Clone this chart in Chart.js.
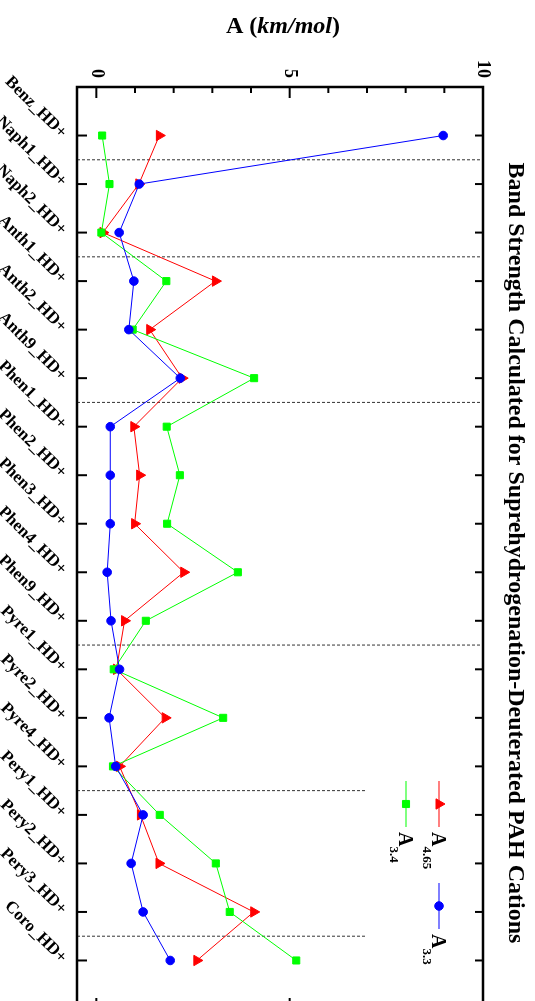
<!DOCTYPE html>
<html><head><meta charset="utf-8">
<script src="https://cdn.jsdelivr.net/npm/chart.js@4"></script>
<style>
html,body{margin:0;padding:0;width:535px;height:1001px;overflow:hidden;background:#fff}
#wrap{position:absolute;left:0;top:0;width:1020px;height:535px;transform-origin:0 0;transform:translate(535px,0) rotate(90deg)}
canvas{display:block}
</style></head><body>
<div id="wrap"><canvas id="c" width="1020" height="535"></canvas></div>
<script>
const categories = ["Benz_HD+","Naph1_HD+","Naph2_HD+","Anth1_HD+","Anth2_HD+","Anth9_HD+","Phen1_HD+","Phen2_HD+","Phen3_HD+","Phen4_HD+","Phen9_HD+","Pyre1_HD+","Pyre2_HD+","Pyre4_HD+","Pery1_HD+","Pery2_HD+","Pery3_HD+","Coro_HD+"];
const a465 = [1.63,1.10,0.17,3.08,1.38,2.22,0.97,1.12,0.99,2.26,0.73,0.52,1.78,0.60,1.14,1.62,4.07,2.60];
const a34  = [0.15,0.34,0.13,1.81,0.94,4.08,1.82,2.16,1.83,3.66,1.28,0.45,3.28,0.43,1.64,3.09,3.45,5.17];
const a33  = [8.97,1.11,0.59,0.97,0.84,2.17,0.36,0.36,0.36,0.28,0.38,0.60,0.33,0.50,1.21,0.90,1.21,1.91];
const valueTicks = [0,5,10];
const minorTicks = [0,1,2,3,4,5,6,7,8,9,10];
const separators = [0.5,2.5,5.5,10.5,13.5,16.5];
const separatorEnds = [10,10,10,10,7,7];
const titleText = "Band Strength Calculated for Suprehydrogenation-Deuterated PAH Cations";
const legendItems = [
  {sub:"4.65", color:"#ff0000", style:"triangle", r:6},
  {sub:"3.4",  color:"#00ff00", style:"rect", r:5},
  {sub:"3.3",  color:"#0000ff", style:"circle", r:4.3}
];
const SERIF = '"Liberation Serif","Times New Roman",serif';

const pts = arr => arr.map((v,i)=>({x:i,y:v}));
const sepSets = separators.map((s,i)=>({
  data:[{x:s,y:-0.5},{x:s,y:separatorEnds[i]}],
  borderColor:'#333', borderWidth:1, borderDash:[3,2], pointRadius:0, fill:false
}));

const deco = {
  id:'deco',
  afterDraw(chart){
    const {ctx, chartArea:a, scales:{x,y}} = chart;
    ctx.save();
    ctx.strokeStyle='#000'; ctx.fillStyle='#000';
    const ln=(x1,y1,x2,y2)=>{ctx.beginPath();ctx.moveTo(x1,y1);ctx.lineTo(x2,y2);ctx.stroke();};
    ctx.lineWidth=2;
    categories.forEach((c,i)=>{const px=x.getPixelForValue(i); ln(px,a.bottom,px,a.bottom-10); ln(px,a.top,px,a.top+8);});
    minorTicks.forEach(v=>{const py=y.getPixelForValue(v); const L=(v%5===0)?11:6; ln(a.left,py,a.left+L,py); ln(a.right,py,a.right-L,py);});
    ctx.lineWidth=2.5;
    ctx.strokeRect(a.left,a.top,a.right-a.left,a.bottom-a.top);
    // title
    ctx.font='bold 24px '+SERIF; ctx.textAlign='center'; ctx.textBaseline='middle';
    ctx.fillText(titleText,553,20);
    // y axis title
    ctx.save();
    ctx.translate(33,(a.top+a.bottom)/2-3);
    ctx.rotate(-Math.PI/2);
    ctx.textAlign='left'; ctx.textBaseline='alphabetic';
    const segs=[["A (",'bold 24px '+SERIF],["km/mol",'italic bold 24px '+SERIF],[")",'bold 24px '+SERIF]];
    let tot=0; segs.forEach(s=>{ctx.font=s[1]; tot+=ctx.measureText(s[0]).width;});
    let cx=-tot/2; segs.forEach(s=>{ctx.font=s[1]; ctx.fillText(s[0],cx,0); cx+=ctx.measureText(s[0]).width;});
    ctx.restore();
    // legend
    const pos=[{x:781,y:96},{x:781,y:129},{x:883,y:96}];
    legendItems.forEach((it,i)=>{
      const p=pos[i];
      ctx.strokeStyle=it.color; ctx.lineWidth=1;
      ln(p.x,p.y,p.x+46,p.y);
      ctx.fillStyle=it.color;
      Chart.helpers.drawPoint(ctx,{pointStyle:it.style,radius:it.r,rotation:0,borderWidth:1},p.x+23,p.y);
      ctx.fillStyle='#000'; ctx.textAlign='left'; ctx.textBaseline='alphabetic';
      ctx.font='bold 20px '+SERIF;
      ctx.fillText('A',p.x+51,p.y+7);
      const w=ctx.measureText('A').width;
      ctx.font='bold 13px '+SERIF;
      ctx.fillText(it.sub,p.x+51+w,p.y+16);
    });
    ctx.restore();
  }
};

const mk=(label,arr,color,style,r)=>({label,data:pts(arr),borderColor:color,backgroundColor:color,borderWidth:1,
  pointStyle:style,pointRadius:r,pointBorderWidth:1,pointBackgroundColor:color,pointBorderColor:color,fill:false,tension:0});

new Chart(document.getElementById('c'),{
  type:'line',
  data:{datasets:[
    mk('A3.3',a33,'#0000ff','circle',4.3),
    mk('A3.4',a34,'#00ff00','rect',5),
    mk('A4.65',a465,'#ff0000','triangle',6),
    ...sepSets
  ]},
  options:{
    responsive:false, animation:false, devicePixelRatio:1,
    layout:{padding:{top:52,right:11,left:0,bottom:0}},
    plugins:{legend:{display:false},tooltip:{enabled:false},title:{display:false}},
    scales:{
      x:{type:'linear',min:-1,max:18,
        grid:{display:false,drawTicks:false}, border:{display:false},
        afterBuildTicks:s=>{s.ticks=categories.map((c,i)=>({value:i}));},
        afterFit:s=>{s.height=77;},
        ticks:{autoSkip:false,minRotation:45,maxRotation:45,padding:6,color:'#000',
          font:{family:SERIF,weight:'bold',size:17},
          callback:v=>categories[v]}
      },
      y:{type:'linear',min:-0.5,max:10,
        grid:{display:false,drawTicks:false}, border:{display:false},
        afterBuildTicks:s=>{s.ticks=valueTicks.map(v=>({value:v}));},
        afterFit:s=>{s.width=87;},
        ticks:{padding:9,color:'#000',font:{family:SERIF,weight:'bold',size:18}}
      }
    }
  },
  plugins:[deco]
});
</script>
</body></html>
